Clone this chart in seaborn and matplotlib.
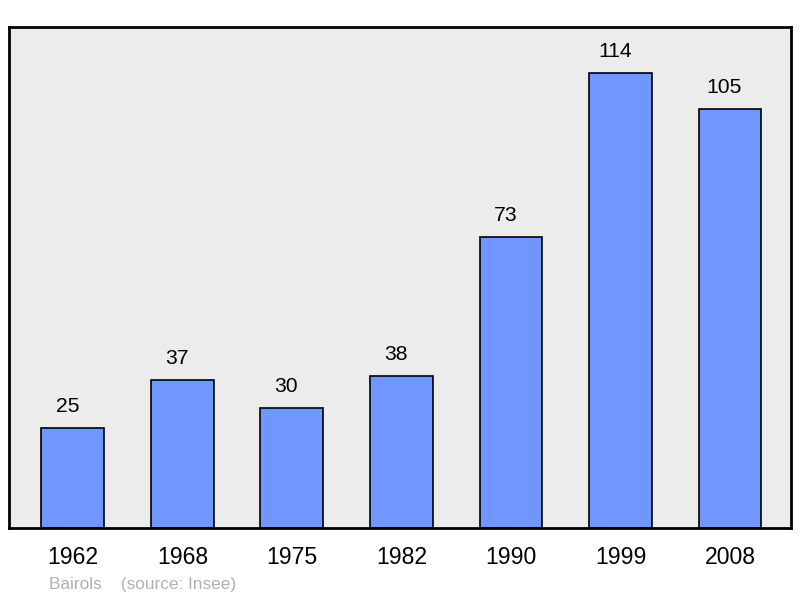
import matplotlib
matplotlib.use("Agg")
import matplotlib.pyplot as plt
import seaborn as sns
import pandas as pd

years = ["1962", "1968", "1975", "1982", "1990", "1999", "2008"]
population = [25, 37, 30, 38, 73, 114, 105]

sns.set_style("white")
plt.rcParams['font.family'] = ['Liberation Sans', 'DejaVu Sans']

df = pd.DataFrame({"year": years, "pop": population})

fig = plt.figure(figsize=(8, 5.98), dpi=100)
ax = fig.add_axes([9/800, 1 - 528/598, 782/800, 501/598])
ax.set_facecolor('#ececec')
sns.barplot(data=df, x="year", y="pop", color='#7096ff', saturation=1,
            width=0.575, edgecolor='black', linewidth=1.2, ax=ax)
ax.set_xlim(-0.584, 6.557)
ax.set_ylim(0, 125.5)
for i, v in enumerate(population):
    ax.annotate(str(v), (i, v), xytext=(-4, 15.5), textcoords='offset points',
                ha='center', va='center', fontsize=15.2, color='black')
ax.set_yticks([])
ax.set_xlabel("")
ax.set_ylabel("")
ax.tick_params(axis='x', length=0, labelsize=16.6, pad=13, labelcolor='black')
for s in ax.spines.values():
    s.set_color('black')
    s.set_linewidth(2)
fig.text(49/800, 1 - 584/598, "Bairols    (source: Insee)", fontsize=12.4,
         color='#b0b0b0', ha='left', va='center')
fig.savefig("out.png", dpi=100)
